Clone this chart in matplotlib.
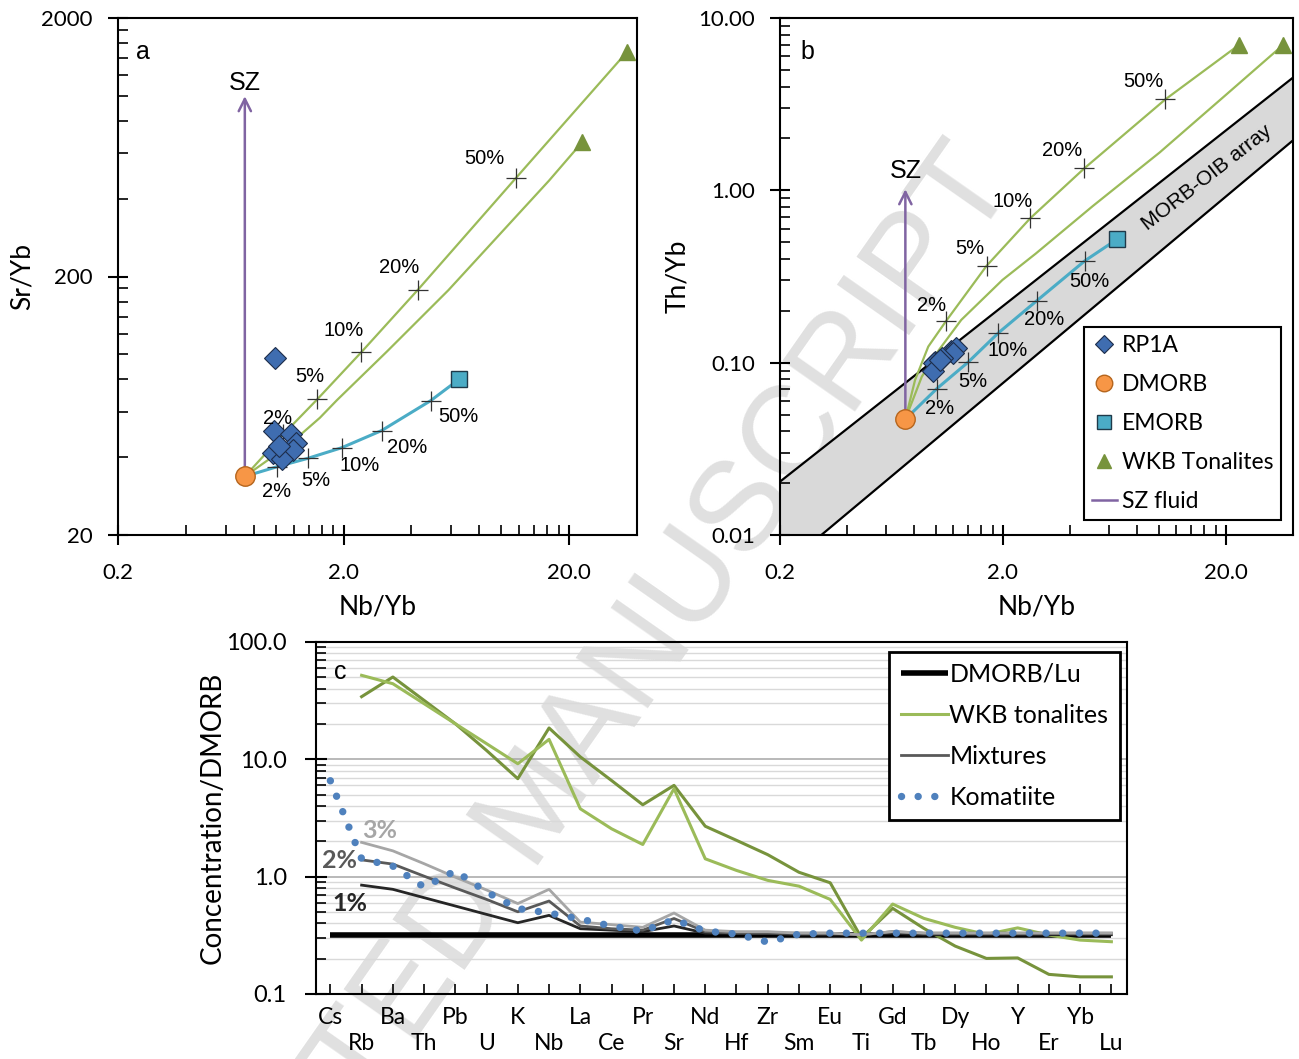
import numpy as np
import matplotlib
matplotlib.use("Agg")
import matplotlib.pyplot as plt
from matplotlib.lines import Line2D
from matplotlib.ticker import LogLocator, NullFormatter

plt.rcParams['font.family'] = ['Lato', 'DejaVu Sans']
ARIAL = ['Liberation Sans', 'DejaVu Sans']

# ---------------- data: panels a and b (ratios) ----------------
rp1a_nb = [0.99, 0.98, 1.17, 1.23, 0.97, 1.19, 1.07, 1.04]
rp1a_sr = [97.0, 50.6, 49.1, 45.5, 41.6, 42.8, 39.2, 44.2]
rp1a_th = [0.101, 0.100, 0.117, 0.121, 0.090, 0.114, 0.106, 0.104]

dmorb_nb = 0.73
dmorb_sr = 33.7
dmorb_th = 0.047

emorb_nb = 6.5
emorb_sr = 80.0
emorb_th = 0.52

wkb_nb = [36.0, 22.8]
wkb_sr = [1474, 660]
wkb_th = [6.95, 6.95]

pct_labels = ['2%', '5%', '10%', '20%', '50%']

# panel a mixing curves (first point DMORB, last point end member)
a_wkb1_nb = [0.73, 1.08, 1.53, 2.40, 4.28, 11.6, 36.0]
a_wkb1_sr = [33.7, 49.0, 67.0, 102, 178, 480, 1474]
a_wkb2_nb = [0.73, 1.12, 1.57, 1.87, 3.11, 5.83, 16.3, 22.8]
a_wkb2_sr = [33.7, 43.9, 56.8, 66.5, 102.4, 177, 470, 660]
a_em_nb = [0.73, 1.01, 1.39, 1.96, 2.95, 4.87, 6.5]
a_em_sr = [33.7, 36.7, 39.6, 43.5, 50.7, 66.2, 80.0]

# panel b mixing curves
b_wkb1_nb = [0.73, 0.807, 0.925, 1.11, 1.69, 2.65, 4.63, 10.7, 22.8]
b_wkb1_th = [0.047, 0.0793, 0.124, 0.174, 0.365, 0.688, 1.34, 3.37, 6.95]
b_wkb2_nb = [0.73, 0.865, 1.03, 1.30, 1.99, 2.81, 5.05, 10.1, 20.1, 36.0]
b_wkb2_th = [0.047, 0.0829, 0.118, 0.177, 0.302, 0.430, 0.809, 1.66, 3.60, 6.95]
b_em_nb = [0.73, 1.01, 1.40, 1.91, 2.84, 4.66, 6.5]
b_em_th = [0.047, 0.0706, 0.101, 0.149, 0.229, 0.390, 0.52]

# MORB-OIB array boundaries
band_nb = [0.2, 40]
band_hi = [0.0204, 4.51]
band_lo = [0.0063, 1.95]

sz_top_sr = 997
sz_top_th = 1.015

# ---------------- data: panel c (normalised to DMORB) ----------------
elements = ['Cs', 'Rb', 'Ba', 'Th', 'Pb', 'U', 'K', 'Nb', 'La', 'Ce', 'Pr', 'Sr', 'Nd',
            'Hf', 'Zr', 'Sm', 'Eu', 'Ti', 'Gd', 'Tb', 'Dy', 'Ho', 'Y', 'Er', 'Yb', 'Lu']
nan = np.nan
dmorb_lu = [0.32] * 26
wkb_dark = [nan, 34.2, 50.3, 31.8, 20.1, 11.9, 6.84, 18.5, 10.5, 6.6, 4.1, 6.0, 2.69,
            2.04, 1.54, 1.09, 0.887, 0.301, 0.537, 0.362, 0.256, 0.201, 0.203, 0.147, 0.140, 0.140]
wkb_light = [nan, 52.0, 44.1, 29.8, 20.1, 13.6, 9.17, 14.8, 3.79, 2.56, 1.88, 5.62, 1.42,
             1.13, 0.93, 0.83, 0.64, 0.288, 0.584, 0.441, 0.370, 0.322, 0.366, 0.318, 0.288, 0.279]
mix_1pct = [nan, 0.847, 0.78, 0.662, 0.562, 0.477, 0.405, 0.468, 0.36, 0.35, 0.34, 0.38, 0.33,
            0.33, 0.33, 0.32, 0.32, 0.32, 0.33, 0.32, 0.32, 0.32, 0.32, 0.32, 0.32, 0.32]
mix_2pct = [nan, 1.39, 1.28, 1.01, 0.80, 0.64, 0.502, 0.62, 0.38, 0.36, 0.35, 0.44, 0.34,
            0.33, 0.33, 0.33, 0.33, 0.32, 0.34, 0.33, 0.33, 0.33, 0.33, 0.33, 0.33, 0.33]
mix_3pct = [nan, 1.96, 1.66, 1.29, 0.99, 0.77, 0.59, 0.78, 0.41, 0.39, 0.37, 0.49, 0.35,
            0.34, 0.34, 0.33, 0.33, 0.32, 0.34, 0.33, 0.33, 0.33, 0.33, 0.33, 0.33, 0.33]
komatiite = [6.57, 1.42, 1.23, 0.815, 1.12, 0.74, 0.535, 0.49, 0.435, 0.379, 0.344, 0.43, 0.344,
             0.324, 0.277, 0.324, 0.33, 0.33, 0.33, 0.33, 0.33, 0.33, 0.33, 0.33, 0.33, 0.33]

# ---------------- colours ----------------
GREEN = '#9bbb59'
DKGREEN = '#77933c'
AQUA = '#4bacc6'
PURPLE = '#8064a2'
BLUE = '#3f6db0'
ORANGE = '#f79646'

W, H = 1299, 1059


def px_rect(l, t, r, b):
    return [l / W, 1 - b / H, (r - l) / W, (b - t) / H]


fig = plt.figure(figsize=(W / 100, H / 100), dpi=100)
ax_a = fig.add_axes(px_rect(118, 18, 637, 535))
ax_b = fig.add_axes(px_rect(780, 18, 1293, 535))
ax_c = fig.add_axes(px_rect(316, 642, 1127, 994))
for ax in (ax_a, ax_b, ax_c):
    ax.set_facecolor('none')
    for sp in ax.spines.values():
        sp.set_linewidth(1.5)

# faint watermark behind everything
fig.text(0.762, 0.846, 'ACCEPTED MANUSCRIPT', rotation=55, rotation_mode='anchor',
         ha='right', va='center', fontsize=92, color='#e0e0e0', family=ARIAL, zorder=-5)


def style_ratio_axes(ax, ymin, ymax, yticks, ylabels, yminor):
    ax.set_xscale('log')
    ax.set_yscale('log')
    ax.set_xlim(0.2, 40)
    ax.set_ylim(ymin, ymax)
    ax.set_xticks([0.2, 2, 20], labels=['0.2', '2.0', '20.0'])
    xminor = [0.2 * k for k in range(2, 10)] + [2 * k for k in range(2, 10)]
    ax.set_xticks(xminor, minor=True)
    ax.set_yticks(yticks, labels=ylabels)
    ax.set_yticks(yminor, minor=True)
    ax.xaxis.set_minor_formatter(NullFormatter())
    ax.yaxis.set_minor_formatter(NullFormatter())
    ax.tick_params(which='major', direction='inout', length=14, width=1.5, labelsize=16)
    ax.tick_params(which='minor', direction='in', length=7, width=1.2)
    ax.tick_params(axis='x', which='major', pad=13)
    ax.tick_params(axis='y', which='major', pad=11)


def pct_marks(ax, xs, ys, offsets):
    ax.plot(xs, ys, ls='none', marker='+', ms=14, mew=0.9, color='#333333', zorder=4)
    for x, y, lab, (dx, dy) in zip(xs, ys, pct_labels, offsets):
        ax.annotate(lab, (x, y), xytext=(dx, -dy), textcoords='offset pixels',
                    ha='center', va='center', fontsize=14.5, family=ARIAL, zorder=6)


# ---------------- panel a ----------------
style_ratio_axes(ax_a, 20, 2000, [20, 200, 2000], ['20', '200', '2000'],
                 [20 * k for k in range(2, 10)] + [200 * k for k in range(2, 10)])
ax_a.plot(a_wkb1_nb, a_wkb1_sr, color=GREEN, lw=1.6, zorder=2)
ax_a.plot(a_wkb2_nb, a_wkb2_sr, color=GREEN, lw=1.6, zorder=2)
ax_a.plot(a_em_nb, a_em_sr, color=AQUA, lw=2.2, zorder=2)
pct_marks(ax_a, a_wkb1_nb[1:6], a_wkb1_sr[1:6],
          [(-6, -16), (-7, -23), (-18, -22), (-19, -22), (-31, -20)])
pct_marks(ax_a, a_em_nb[1:6], a_em_sr[1:6],
          [(0, 25), (8, 22), (18, 18), (26, 17), (28, 16)])
ax_a.annotate('', xy=(dmorb_nb, sz_top_sr), xytext=(dmorb_nb, dmorb_sr),
              arrowprops=dict(arrowstyle='->', color=PURPLE, lw=1.8, mutation_scale=22,
                              shrinkA=0, shrinkB=0), zorder=3)
ax_a.text(dmorb_nb, 1124, 'SZ', ha='center', va='center', fontsize=18, family=ARIAL)
ax_a.plot(rp1a_nb, rp1a_sr, ls='none', marker='D', ms=11, mfc=BLUE, mec='#1d2d4a', mew=0.8, zorder=5)
ax_a.plot(wkb_nb, wkb_sr, ls='none', marker='^', ms=12, color=DKGREEN, zorder=5)
ax_a.plot([emorb_nb], [emorb_sr], ls='none', marker='s', ms=12, mfc=AQUA, mec='#1f3a4a', mew=1, zorder=5)
ax_a.plot([dmorb_nb], [dmorb_sr], ls='none', marker='o', ms=14, mfc=ORANGE, mec='#b5651d', mew=1, zorder=6)
ax_a.text(0.048, 0.935, 'a', transform=ax_a.transAxes, ha='center', va='center', fontsize=18, family=ARIAL)
ax_a.set_xlabel('Nb/Yb', fontsize=19, va='center')
ax_a.set_ylabel('Sr/Yb', fontsize=19, va='center')
ax_a.xaxis.set_label_coords(0.5, -0.139)
ax_a.yaxis.set_label_coords(-0.185, 0.5)

# ---------------- panel b ----------------
style_ratio_axes(ax_b, 0.01, 10, [0.01, 0.1, 1, 10], ['0.01', '0.10', '1.00', '10.00'],
                 [m * k for m in (0.01, 0.1, 1) for k in range(2, 10)])
ax_b.fill_between(band_nb, band_lo, band_hi, color='#d9d9d9', lw=0, zorder=0)
ax_b.plot(band_nb, band_hi, color='black', lw=1.6, zorder=1)
ax_b.plot(band_nb, band_lo, color='black', lw=1.6, zorder=1)
ax_b.text(16.4, 1.19, 'MORB-OIB array', rotation=37.9, rotation_mode='anchor',
          ha='center', va='center', fontsize=15, family=ARIAL)
ax_b.plot(b_wkb1_nb, b_wkb1_th, color=GREEN, lw=1.6, zorder=2)
ax_b.plot(b_wkb2_nb, b_wkb2_th, color=GREEN, lw=1.6, zorder=2)
ax_b.plot(b_em_nb, b_em_th, color=AQUA, lw=2.2, zorder=2)
pct_marks(ax_b, b_wkb1_nb[3:8], b_wkb1_th[3:8],
          [(-14, -16), (-17, -17), (-18, -17), (-22, -18), (-22, -18)])
pct_marks(ax_b, b_em_nb[1:6], b_em_th[1:6],
          [(3, 20), (4, 20), (9, 18), (7, 19), (5, 21)])
ax_b.annotate('', xy=(dmorb_nb, sz_top_th), xytext=(dmorb_nb, dmorb_th),
              arrowprops=dict(arrowstyle='->', color=PURPLE, lw=1.8, mutation_scale=22,
                              shrinkA=0, shrinkB=0), zorder=3)
ax_b.text(dmorb_nb, 1.30, 'SZ', ha='center', va='center', fontsize=18, family=ARIAL)
h_rp = ax_b.plot(rp1a_nb, rp1a_th, ls='none', marker='D', ms=11, mfc=BLUE, mec='#1d2d4a',
                 mew=0.8, zorder=5, label='RP1A')[0]
h_wk = ax_b.plot(wkb_nb, wkb_th, ls='none', marker='^', ms=12, color=DKGREEN, zorder=5,
                 label='WKB Tonalites')[0]
h_em = ax_b.plot([emorb_nb], [emorb_th], ls='none', marker='s', ms=12, mfc=AQUA, mec='#1f3a4a',
                 mew=1, zorder=5, label='EMORB')[0]
h_dm = ax_b.plot([dmorb_nb], [dmorb_th], ls='none', marker='o', ms=14, mfc=ORANGE, mec='#b5651d',
                 mew=1, zorder=6, label='DMORB')[0]
h_sz = Line2D([], [], color=PURPLE, lw=1.8)
ax_b.text(0.054, 0.935, 'b', transform=ax_b.transAxes, ha='center', va='center', fontsize=18, family=ARIAL)
ax_b.set_xlabel('Nb/Yb', fontsize=19, va='center')
ax_b.set_ylabel('Th/Yb', fontsize=19, va='center')
ax_b.xaxis.set_label_coords(0.5, -0.139)
ax_b.yaxis.set_label_coords(-0.199, 0.5)
leg_b = ax_b.legend([h_rp, h_dm, h_em, h_wk, h_sz], ['RP1A', 'DMORB', 'EMORB', 'WKB Tonalites', 'SZ fluid'],
                    loc='lower right', bbox_to_anchor=(0.977, 0.029), borderaxespad=0,
                    fontsize=16.5, frameon=True, fancybox=False, framealpha=1, edgecolor='black',
                    handlelength=1.1, handletextpad=0.2, labelspacing=0.78, borderpad=0.35,
                    markerscale=0.85)
leg_b.get_frame().set_linewidth(1.5)

# ---------------- panel c ----------------
xi = np.arange(len(elements))
ax_c.set_yscale('log')
ax_c.set_ylim(0.1, 100)
ax_c.set_xlim(-0.46, 25.5)
ax_c.set_yticks([0.1, 1, 10, 100], labels=['0.1', '1.0', '10.0', '100.0'])
ax_c.yaxis.set_minor_locator(LogLocator(base=10, subs=range(2, 10)))
ax_c.yaxis.set_minor_formatter(NullFormatter())
ax_c.yaxis.grid(True, which='major', color='#a6a6a6', lw=1.1)
ax_c.yaxis.grid(True, which='minor', color='#d9d9d9', lw=1.0)
ax_c.set_axisbelow(True)
ax_c.set_xticks(xi, labels=[e if i % 2 == 0 else '\n' + e for i, e in enumerate(elements)])
for lab in ax_c.get_xticklabels():
    lab.set_linespacing(1.3)
ax_c.tick_params(axis='x', direction='in', length=7, width=1.2, labelsize=16.5, pad=9)
ax_c.tick_params(axis='y', which='major', direction='inout', length=16, width=1.5, labelsize=17, pad=13)
ax_c.tick_params(axis='y', which='minor', direction='in', length=7, width=1.2)

ax_c.plot(xi, dmorb_lu, color='black', lw=4, solid_capstyle='butt', label='DMORB/Lu', zorder=3)
ax_c.plot(xi, wkb_dark, color=DKGREEN, lw=2.2, zorder=3)
ax_c.plot(xi, wkb_light, color=GREEN, lw=2.2, label='WKB tonalites', zorder=3)
ax_c.plot(xi, mix_1pct, color='#262626', lw=2.0, zorder=3)
ax_c.plot(xi, mix_2pct, color='#595959', lw=2.0, label='Mixtures', zorder=3)
ax_c.plot(xi, mix_3pct, color='#a6a6a6', lw=2.0, zorder=3)
ax_c.plot(xi, komatiite, color='#4f81bd', lw=5.3, ls=(0, (0.01, 2.25)), dash_capstyle='round',
          label='Komatiite', zorder=4)

ax_c.text(1.58, 2.49, '3%', color='#a6a6a6', fontsize=18, fontweight='bold', ha='center', va='center')
ax_c.text(0.30, 1.36, '2%', color='#595959', fontsize=18, fontweight='bold', ha='center', va='center')
ax_c.text(0.62, 0.596, '1%', color='#262626', fontsize=18, fontweight='bold', ha='center', va='center')
ax_c.text(0.33, 55, 'c', ha='center', va='center', fontsize=18, family=ARIAL)
ax_c.set_ylabel('Concentration/DMORB', fontsize=20, va='center')
ax_c.yaxis.set_label_coords(-0.127, 0.5)
leg_c = ax_c.legend(loc='upper right', bbox_to_anchor=(0.991, 0.9724), borderaxespad=0,
                    fontsize=18, frameon=True, fancybox=False, framealpha=1, edgecolor='black',
                    handlelength=1.9, handletextpad=0.05, labelspacing=0.72, borderpad=0.45)
leg_c.get_frame().set_linewidth(2)

fig.savefig('out.png', dpi=100)
